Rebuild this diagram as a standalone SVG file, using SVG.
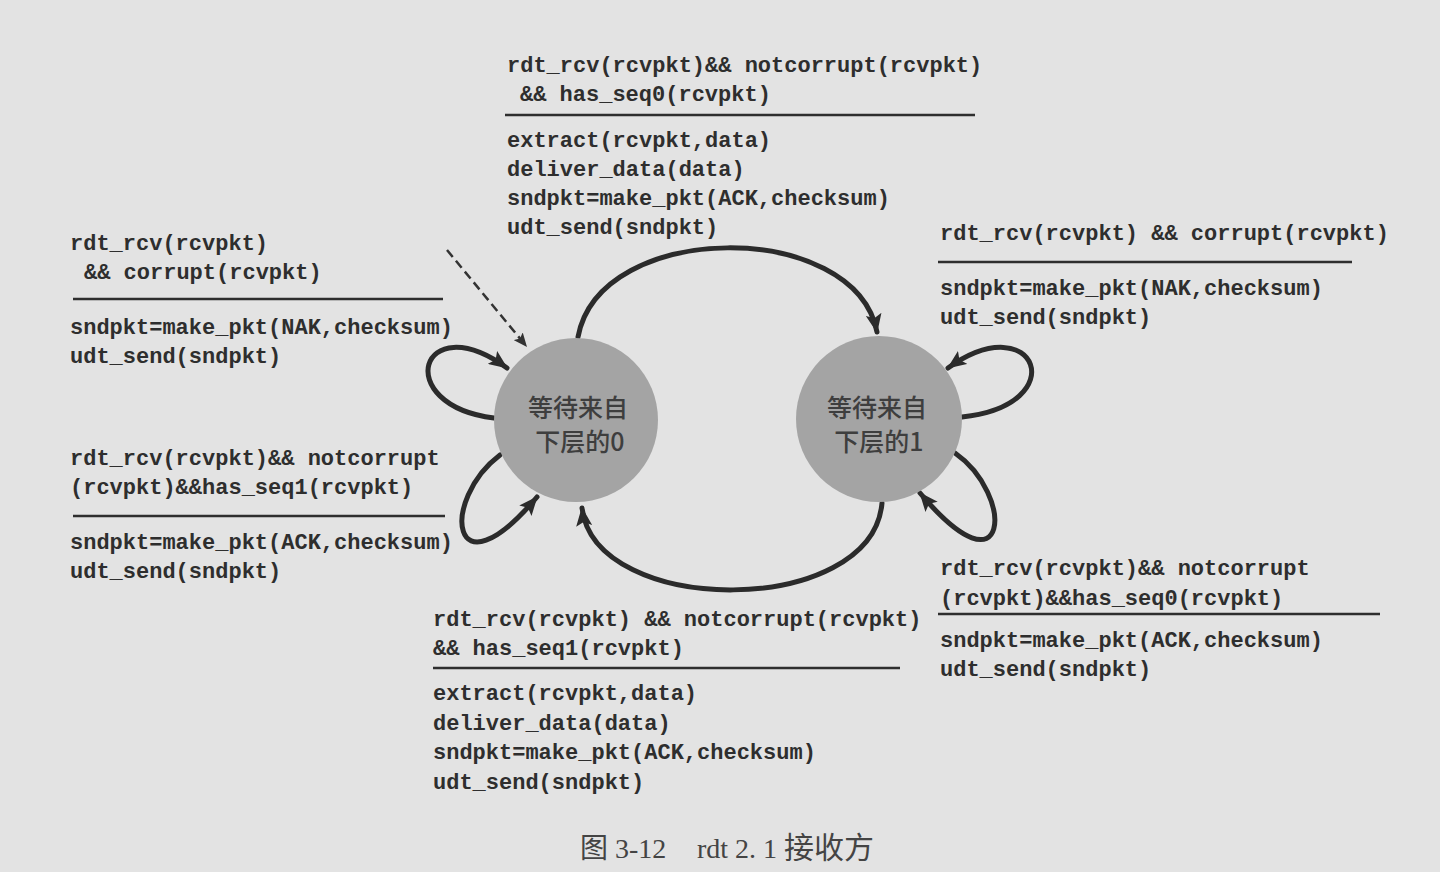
<svg xmlns="http://www.w3.org/2000/svg" width="1440" height="872" viewBox="0 0 1440 872">
  <style>
    .code { font-family: "Liberation Mono", "DejaVu Sans Mono", monospace; font-size: 22px; font-weight: bold; fill: #2e2e2e; }
    .rule { stroke: #2e2e2e; stroke-width: 2.5; }
    .state { fill: #a4a4a4; }
    .state-label { font-family: "Noto Sans CJK SC", "Liberation Serif", sans-serif; font-size: 25px; font-weight: 500; fill: #3e3e3e; text-anchor: middle; }
    .edge { fill: none; stroke: #2b2b2b; stroke-width: 5; stroke-linecap: round; }
    .edge-init { fill: none; stroke: #333333; stroke-width: 2.5; stroke-dasharray: 9 5; }
    .caption { font-family: "Liberation Serif", "Noto Sans CJK SC", serif; font-size: 28px; fill: #444444; }
  </style>
  <defs>
    <marker id="arrow" markerUnits="userSpaceOnUse" markerWidth="20" markerHeight="16" refX="18" refY="8" orient="auto">
      <path d="M0,0 L19,8 L0,16 L4,8 z" fill="#2b2b2b"/>
    </marker>
    <marker id="arrow-small" markerUnits="userSpaceOnUse" markerWidth="15" markerHeight="12" refX="14" refY="6" orient="auto">
      <path d="M0,0 L14,6 L0,12 L3,6 z" fill="#333333"/>
    </marker>
  </defs>

  <rect width="1440" height="872" fill="#e3e3e3"/>

  <!-- transitions -->
  <g id="connectors">
    <path id="init" class="edge-init" d="M447,250 L527,347" marker-end="url(#arrow-small)"/>
    <path id="s0-to-s1" class="edge" d="M578,337 C600,219 855,219 877,332" marker-end="url(#arrow)"/>
    <path id="s1-to-s0" class="edge" d="M882,503 C872,618 595,618 582,508" marker-end="url(#arrow)"/>
    <path id="s0-corrupt" class="edge" d="M494,418 C390,405 420,305 507,368" marker-end="url(#arrow)"/>
    <path id="s0-seq1" class="edge" d="M500,455 C440,500 450,600 537,497" marker-end="url(#arrow)"/>
    <path id="s1-corrupt" class="edge" d="M962,417 C1075,405 1036,305 948,368" marker-end="url(#arrow)"/>
    <path id="s1-seq0" class="edge" d="M955,453 C1015,495 1010,600 920,493" marker-end="url(#arrow)"/>
  </g>

  <!-- states -->
  <g id="state-wait0">
    <circle class="state" cx="576" cy="420" r="82"/>
    <text class="state-label" x="578" y="417">等待来自</text>
    <text class="state-label" x="580" y="451">下层的0</text>
  </g>
  <g id="state-wait1">
    <circle class="state" cx="879" cy="419" r="83"/>
    <text class="state-label" x="877" y="417">等待来自</text>
    <text class="state-label" x="879" y="451">下层的1</text>
  </g>

  <!-- label: wait0 -> wait1 -->
  <g id="label-s0-to-s1">
    <text class="code" x="507" y="72">rdt_rcv(rcvpkt)&amp;&amp; notcorrupt(rcvpkt)</text>
    <text class="code" x="520" y="101">&amp;&amp; has_seq0(rcvpkt)</text>
    <line class="rule" x1="505" y1="115" x2="975" y2="115"/>
    <text class="code" x="507" y="147">extract(rcvpkt,data)</text>
    <text class="code" x="507" y="176">deliver_data(data)</text>
    <text class="code" x="507" y="205">sndpkt=make_pkt(ACK,checksum)</text>
    <text class="code" x="507" y="234">udt_send(sndpkt)</text>
  </g>

  <!-- label: wait0 self loop, corrupt -->
  <g id="label-s0-corrupt">
    <text class="code" x="70" y="250">rdt_rcv(rcvpkt)</text>
    <text class="code" x="84" y="279">&amp;&amp; corrupt(rcvpkt)</text>
    <line class="rule" x1="73" y1="299" x2="443" y2="299"/>
    <text class="code" x="70" y="334">sndpkt=make_pkt(NAK,checksum)</text>
    <text class="code" x="70" y="363">udt_send(sndpkt)</text>
  </g>

  <!-- label: wait0 self loop, duplicate seq1 -->
  <g id="label-s0-seq1">
    <text class="code" x="70" y="465">rdt_rcv(rcvpkt)&amp;&amp; notcorrupt</text>
    <text class="code" x="70" y="494">(rcvpkt)&amp;&amp;has_seq1(rcvpkt)</text>
    <line class="rule" x1="73" y1="516" x2="445" y2="516"/>
    <text class="code" x="70" y="549">sndpkt=make_pkt(ACK,checksum)</text>
    <text class="code" x="70" y="578">udt_send(sndpkt)</text>
  </g>

  <!-- label: wait1 self loop, corrupt -->
  <g id="label-s1-corrupt">
    <text class="code" x="940" y="240">rdt_rcv(rcvpkt) &amp;&amp; corrupt(rcvpkt)</text>
    <line class="rule" x1="938" y1="262" x2="1352" y2="262"/>
    <text class="code" x="940" y="295">sndpkt=make_pkt(NAK,checksum)</text>
    <text class="code" x="940" y="324">udt_send(sndpkt)</text>
  </g>

  <!-- label: wait1 self loop, duplicate seq0 -->
  <g id="label-s1-seq0">
    <text class="code" x="940" y="575">rdt_rcv(rcvpkt)&amp;&amp; notcorrupt</text>
    <text class="code" x="940" y="605">(rcvpkt)&amp;&amp;has_seq0(rcvpkt)</text>
    <line class="rule" x1="938" y1="614" x2="1380" y2="614"/>
    <text class="code" x="940" y="647">sndpkt=make_pkt(ACK,checksum)</text>
    <text class="code" x="940" y="676">udt_send(sndpkt)</text>
  </g>

  <!-- label: wait1 -> wait0 -->
  <g id="label-s1-to-s0">
    <text class="code" x="433" y="626">rdt_rcv(rcvpkt) &amp;&amp; notcorrupt(rcvpkt)</text>
    <text class="code" x="433" y="655">&amp;&amp; has_seq1(rcvpkt)</text>
    <line class="rule" x1="433" y1="668" x2="900" y2="668"/>
    <text class="code" x="433" y="700">extract(rcvpkt,data)</text>
    <text class="code" x="433" y="730">deliver_data(data)</text>
    <text class="code" x="433" y="759">sndpkt=make_pkt(ACK,checksum)</text>
    <text class="code" x="433" y="789">udt_send(sndpkt)</text>
  </g>

  <!-- figure caption -->
  <g id="caption">
    <text class="caption" y="858"><tspan x="580">图 3-12</tspan><tspan x="697">rdt 2. 1</tspan><tspan x="784" font-size="30">接收方</tspan></text>
  </g>
</svg>
